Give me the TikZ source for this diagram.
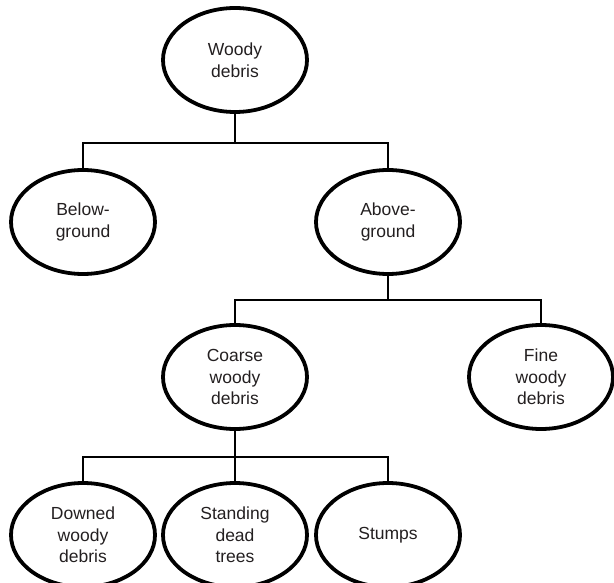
\documentclass[tikz,border=0pt]{standalone}
\usepackage{fontspec}
\setmainfont{Liberation Sans}
\usetikzlibrary{shapes.geometric}
\definecolor{txt}{HTML}{231F20}
\begin{document}
\begin{tikzpicture}[x=1pt,y=-1pt,
  oval/.style={ellipse, draw=black, line width=3.8pt, minimum width=144pt, minimum height=104pt,
    inner sep=0pt, align=center, text=txt, font=\fontsize{17.5}{21.5}\selectfont},
  conn/.style={draw=black, line width=2pt}]
\useasboundingbox (0,0) rectangle (614,583);
\node[oval] (wd) at (235,60) {Woody\\debris};
\node[oval] (bg) at (83,222) {Below-\\ground};
\node[oval] (ag) at (388,222) {Above-\\ground};
\node[oval] (cwd) at (235,377) {Coarse\\woody\\debris};
\node[oval] (fwd) at (541,377) {Fine\\woody\\debris};
\node[oval] (dwd) at (83,535) {Downed\\woody\\debris};
\node[oval] (sdt) at (235,535) {Standing\\dead\\trees};
\node[oval] (st) at (388,535) {Stumps};
\coordinate (j1) at (235,143);
\coordinate (j2) at (388,300);
\coordinate (j3) at (235,457);
\draw[conn] (wd.south) -- (j1);
\draw[conn] (bg.north) |- (j1) -| (ag.north);
\draw[conn] (ag.south) -- (j2);
\draw[conn] (cwd.north) |- (j2) -| (fwd.north);
\draw[conn] (cwd.south) -- (j3);
\draw[conn] (dwd.north) |- (j3) -| (st.north);
\draw[conn] (j3) -- (sdt.north);
\end{tikzpicture}
\end{document}
